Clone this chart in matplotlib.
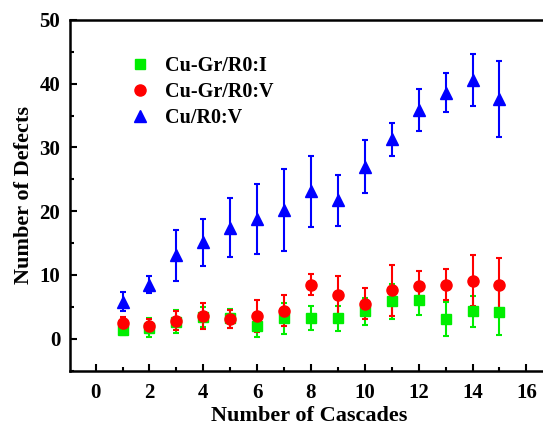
import numpy as np
import matplotlib
matplotlib.use('Agg')
import matplotlib.pyplot as plt
from matplotlib.ticker import MultipleLocator

# cascades
cascades = np.arange(1, 16)

# Cu-Gr/R0:I (interstitials)
gr_i = [1.3, 1.7, 2.7, 3.4, 3.2, 2.0, 3.2, 3.2, 3.2, 4.3, 5.85, 6.1, 3.1, 4.3, 4.2]
gr_i_err = [0.7, 1.5, 1.8, 1.5, 1.5, 1.8, 2.4, 1.9, 2.0, 2.1, 2.7, 2.3, 2.6, 2.4, 3.6]

# Cu-Gr/R0:V (vacancies)
gr_v = [2.4, 2.0, 2.8, 3.6, 3.1, 3.6, 4.4, 8.5, 6.8, 5.5, 7.6, 8.3, 8.5, 9.1, 8.35]
gr_v_err = [1.0, 1.1, 1.5, 2.0, 1.4, 2.5, 2.4, 1.7, 3.0, 2.4, 4.0, 2.4, 2.5, 4.0, 4.3]

# Cu/R0:V
cu_v = [5.8, 8.5, 13.1, 15.1, 17.4, 18.8, 20.2, 23.1, 21.7, 27.0, 31.3, 35.9, 38.6, 40.6, 37.6]
cu_v_err = [1.5, 1.3, 4.0, 3.7, 4.6, 5.5, 6.4, 5.5, 4.0, 4.2, 2.6, 3.3, 3.1, 4.1, 6.0]

plt.rcParams['font.family'] = ['Liberation Serif', 'DejaVu Serif']
plt.rcParams['font.weight'] = 'bold'

fig = plt.figure(figsize=(5.43, 4.25), dpi=100)
ax = fig.add_axes([0.129, 0.128, 0.88, 0.825])

kw = dict(linestyle='none', capsize=2.5, elinewidth=1.5, capthick=1.5)
ax.errorbar(cascades, gr_i, yerr=gr_i_err, fmt='s', color='#00ee00', ms=6.5,
            label='Cu-Gr/R0:I', **kw)
ax.errorbar(cascades, gr_v, yerr=gr_v_err, fmt='o', color='#ff0000', ms=8,
            label='Cu-Gr/R0:V', **kw)
ax.errorbar(cascades, cu_v, yerr=cu_v_err, fmt='^', color='#0000ff', ms=9,
            label='Cu/R0:V', **kw)

ax.set_xlim(-0.95, 16.8)
ax.set_ylim(-5, 50)
ax.xaxis.set_major_locator(MultipleLocator(2))
ax.xaxis.set_minor_locator(MultipleLocator(1))
ax.yaxis.set_major_locator(MultipleLocator(10))
ax.yaxis.set_minor_locator(MultipleLocator(5))
ax.tick_params(which='both', direction='in', width=1.5, labelsize=15)
ax.tick_params(which='major', length=5)
ax.tick_params(which='minor', length=3)
ax.tick_params(axis='x', pad=9)
ax.tick_params(axis='y', pad=7)
for s in ['left', 'bottom', 'top']:
    ax.spines[s].set_linewidth(1.8)
ax.spines['right'].set_visible(False)

ax.set_xlabel('Number of Cascades', fontsize=16, fontweight='bold', labelpad=2)
ax.set_ylabel('Number of Defects', fontsize=16, fontweight='bold', labelpad=4)

h, l = ax.get_legend_handles_labels()
h = [x[0] for x in h]
ax.legend(h, l, loc='upper left', bbox_to_anchor=(0.088, 0.95), frameon=False,
          fontsize=14.5, handlelength=1, handletextpad=0.75, labelspacing=0.3)

fig.savefig('out.png', dpi=100)
